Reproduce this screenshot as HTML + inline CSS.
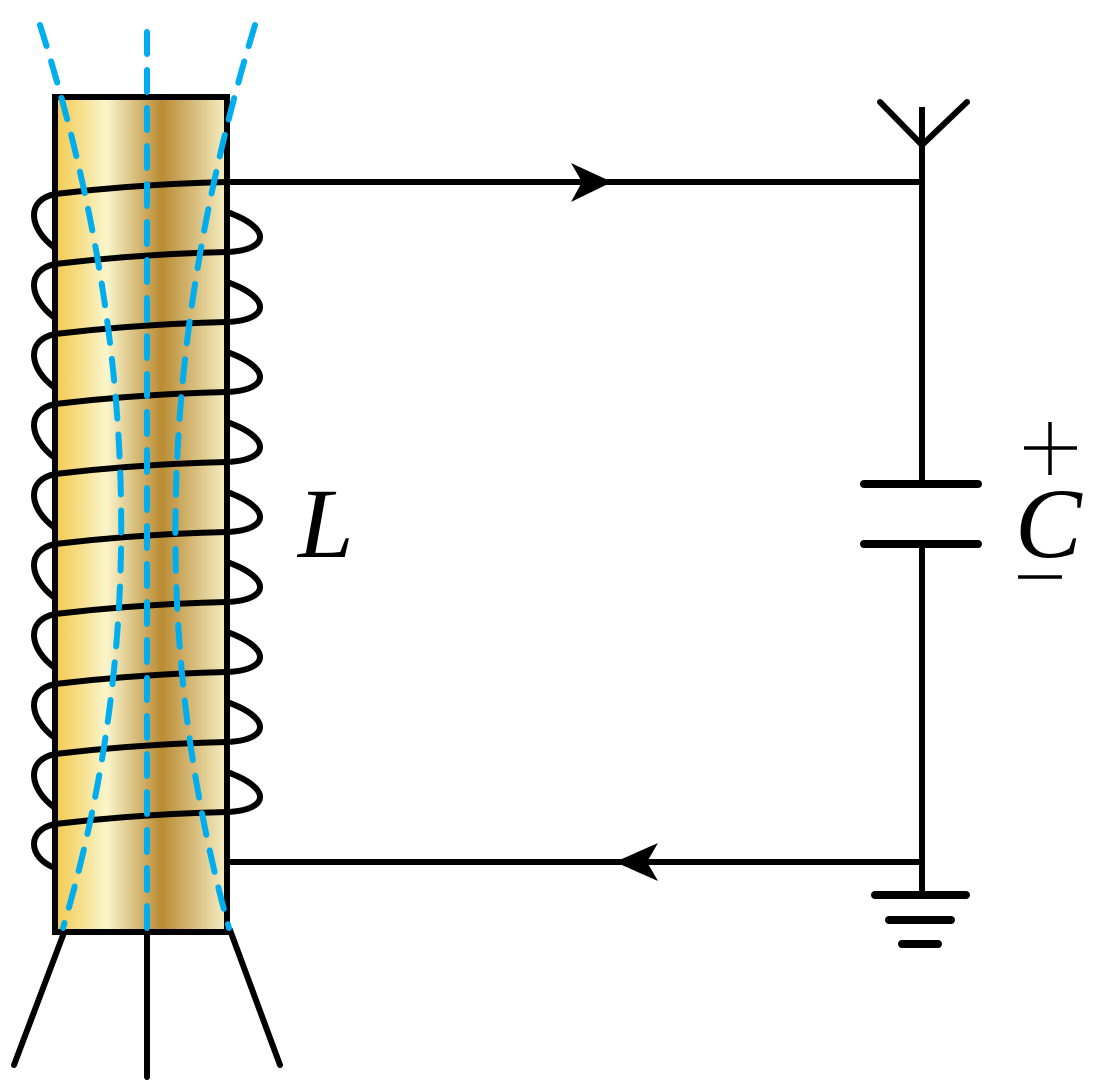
<!DOCTYPE html>
<html><head><meta charset="utf-8"><style>
html,body{margin:0;padding:0;background:#fff;}
svg{display:block;}
text{font-family:"Liberation Serif",serif;font-style:italic;}
</style></head><body>
<svg width="1096" height="1091" viewBox="0 0 1096 1091" xmlns="http://www.w3.org/2000/svg">
<defs>
<linearGradient id="g" x1="0" x2="1" y1="0" y2="0">
<stop offset="0" stop-color="#f2c94c"/>
<stop offset="0.3" stop-color="#faf5cc"/>
<stop offset="0.62" stop-color="#b98b33"/>
<stop offset="1" stop-color="#f6efc4"/>
</linearGradient>
</defs>
<g stroke="#000" stroke-width="6" stroke-linecap="round" fill="none">
<line x1="65" y1="930" x2="14" y2="1065"/>
<line x1="147" y1="932" x2="147" y2="1077"/>
<line x1="230" y1="930" x2="280" y2="1065"/>
</g>
<rect x="55" y="97" width="172" height="835" fill="url(#g)" stroke="#000" stroke-width="6"/>
<g stroke="#000" stroke-width="6" fill="none" stroke-linecap="round">
<path d="M55,194 Q140,184 227,182"/><path d="M55,194 C26,200 28,228 55,248"/><path d="M227,212 C272,228 270,250 227,252"/>
<path d="M55,264 Q140,254 227,252"/><path d="M55,264 C26,270 28,298 55,318"/><path d="M227,282 C272,298 270,320 227,322"/>
<path d="M55,334 Q140,324 227,322"/><path d="M55,334 C26,340 28,368 55,388"/><path d="M227,352 C272,368 270,390 227,392"/>
<path d="M55,404 Q140,394 227,392"/><path d="M55,404 C26,410 28,438 55,458"/><path d="M227,422 C272,438 270,460 227,462"/>
<path d="M55,474 Q140,464 227,462"/><path d="M55,474 C26,480 28,508 55,528"/><path d="M227,492 C272,508 270,530 227,532"/>
<path d="M55,544 Q140,534 227,532"/><path d="M55,544 C26,550 28,578 55,598"/><path d="M227,562 C272,578 270,600 227,602"/>
<path d="M55,614 Q140,604 227,602"/><path d="M55,614 C26,620 28,648 55,668"/><path d="M227,632 C272,648 270,670 227,672"/>
<path d="M55,684 Q140,674 227,672"/><path d="M55,684 C26,690 28,718 55,738"/><path d="M227,702 C272,718 270,740 227,742"/>
<path d="M55,754 Q140,744 227,742"/><path d="M55,754 C26,760 28,788 55,808"/><path d="M227,772 C272,788 270,810 227,812"/>
<path d="M55,824 Q140,814 227,812"/><path d="M55,824 C26,830 28,858 55,868"/>
</g>
<g stroke="#00aeef" stroke-width="6" fill="none" stroke-linecap="round" stroke-dasharray="22 16">
<line x1="147" y1="32" x2="147" y2="928"/>
<path d="M40,25 Q190,500 63,928"/>
<path d="M255,25 Q110,500 229,928"/>
</g>
<g stroke="#000" stroke-width="6" fill="none">
<line x1="227" y1="182" x2="922" y2="182"/>
<line x1="227" y1="862" x2="922" y2="862"/>
<line x1="922" y1="107" x2="922" y2="485"/>
<line x1="922" y1="545" x2="922" y2="895"/>
<polyline points="880,102 922,145 967,102" stroke-linecap="round"/>
</g>
<g stroke="#000" stroke-width="8" stroke-linecap="round">
<line x1="864" y1="484" x2="978" y2="484"/>
<line x1="864" y1="544" x2="978" y2="544"/>
<line x1="875" y1="895" x2="966" y2="895"/>
<line x1="889" y1="920" x2="951" y2="920"/>
<line x1="902" y1="944" x2="938" y2="944"/>
</g>
<polygon points="612,182 571,163 582,182 571,202" fill="#000"/>
<polygon points="615,862 658,843 647,862 658,881" fill="#000"/>
<g stroke="#000" stroke-width="3.5">
<line x1="1024" y1="448" x2="1077" y2="448"/>
<line x1="1050" y1="422" x2="1050" y2="475"/>
<line x1="1018" y1="577" x2="1062" y2="577"/>
</g>
<text x="298" y="557" font-size="100">L</text>
<text x="1015" y="557" font-size="100">C</text>
</svg>
</body></html>
